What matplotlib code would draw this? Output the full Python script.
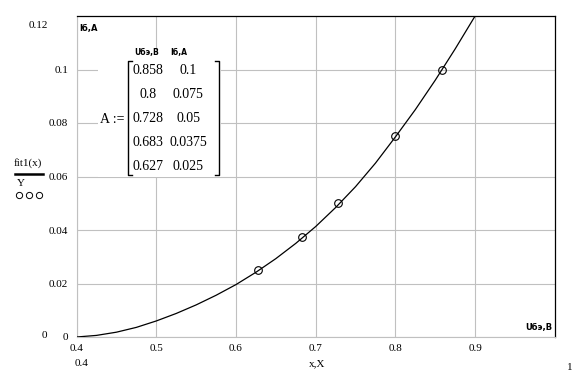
import matplotlib
matplotlib.use("Agg")
import matplotlib.pyplot as plt
from matplotlib.lines import Line2D
from matplotlib.patches import Rectangle

# measured points (matrix A): Uбэ, В and Iб, А
u_be = [0.858, 0.8, 0.728, 0.683, 0.627]
i_b = [0.1, 0.075, 0.05, 0.0375, 0.025]

# fit1(x)
fit_x = [0.400, 0.425, 0.450, 0.475, 0.500, 0.525, 0.550, 0.575, 0.600, 0.625, 0.650,
         0.675, 0.700, 0.725, 0.750, 0.775, 0.800, 0.825, 0.850, 0.875, 0.900]
fit_y = [0.0000, 0.0006, 0.0018, 0.0036, 0.0060, 0.0088, 0.0120, 0.0156, 0.0196, 0.0242, 0.0293,
         0.0350, 0.0413, 0.0484, 0.0562, 0.0650, 0.0748, 0.0850, 0.0960, 0.1077, 0.1200]

x_ticks = [0.4, 0.5, 0.6, 0.7, 0.8, 0.9]
y_ticks = [0, 0.02, 0.04, 0.06, 0.08, 0.1]
y_tick_labels = ["0", "0.02", "0.04", "0.06", "0.08", "0.1"]

W, H = 577, 370
GRID = "#c0c0c0"
SERIF = "Liberation Serif"
FS = 8

fig = plt.figure(figsize=(W / 100, H / 100), dpi=100)
ax = fig.add_axes([76.6 / W, 1 - 337 / H, (554.8 - 76.6) / W, (337 - 16) / H])


def px(x, y):
    return x / W, 1 - y / H


ax.plot(fit_x, fit_y, color="black", lw=0.9, zorder=3)
ax.plot(u_be, i_b, ls="none", marker="o", ms=5.5, mfc="none", mec="black", mew=0.8, zorder=4)

ax.set_xlim(0.4, 1.0)
ax.set_ylim(0, 0.12)
ax.set_xticks(x_ticks, [str(v) for v in x_ticks])
ax.set_yticks(y_ticks, y_tick_labels)
ax.tick_params(length=0, labelsize=FS)
ax.tick_params(axis="x", pad=5)
ax.tick_params(axis="y", pad=6)
for lab in ax.get_xticklabels() + ax.get_yticklabels():
    lab.set_family(SERIF)
ax.grid(True, color=GRID, lw=0.8)
ax.set_axisbelow(True)
for side in ["left", "bottom"]:
    ax.spines[side].set_color(GRID)
    ax.spines[side].set_linewidth(0.8)
for side in ["top", "right"]:
    ax.spines[side].set_color("black")
    ax.spines[side].set_linewidth(0.9)

# axis names inside the plot
ax.text(0.006, 0.975, "Iб,А", transform=ax.transAxes, fontsize=6, fontweight="bold",
        family="DejaVu Sans", ha="left", va="top")
ax.text(0.995, 0.015, "Uбэ,В", transform=ax.transAxes, fontsize=6, fontweight="bold",
        family="DejaVu Sans", ha="right", va="bottom")

# range limits and x label
fig.text(*px(38, 25), "0.12", fontsize=FS, family=SERIF, ha="center", va="center")
fig.text(*px(44, 335), "0", fontsize=FS, family=SERIF, ha="center", va="center")
fig.text(*px(82, 364), "0.4", fontsize=FS, family=SERIF, ha="center", va="center")
fig.text(*px(317, 364), "x,X", fontsize=FS, family=SERIF, ha="center", va="center")
fig.text(*px(570, 367), "1", fontsize=FS, family=SERIF, ha="center", va="center")

# legend on the left
fig.text(*px(28, 163), "fit1(x)", fontsize=8, family=SERIF, ha="center", va="center")
fig.add_artist(Line2D([15 / W, 43 / W], [1 - 174 / H, 1 - 174 / H], color="black", lw=1.8))
fig.text(*px(21, 184), "Y", fontsize=8, family=SERIF, ha="center", va="center")
for cx in [19, 29, 39]:
    fig.add_artist(Line2D([cx / W], [1 - 195 / H], ls="none", marker="o", ms=4.5,
                          mfc="none", mec="black", mew=0.7))

# white backing behind the matrix hides the grid there
fig.add_artist(Rectangle(px(98, 177), 123 / W, 127 / H, transform=fig.transFigure,
                         fc="white", ec="none", zorder=2.5))

# matrix A
fig.text(*px(112, 119), "A :=", fontsize=10, family=SERIF, ha="center", va="center", zorder=4)
fig.text(*px(147, 53), "Uбэ,В", fontsize=5.5, fontweight="bold", family="DejaVu Sans",
         ha="center", va="center", zorder=4)
fig.text(*px(179, 53), "Iб,А", fontsize=5.5, fontweight="bold", family="DejaVu Sans",
         ha="center", va="center", zorder=4)
rows_y = [70, 94, 118, 142, 166]
for ry, u, i in zip(rows_y, u_be, i_b):
    fig.text(*px(148, ry), str(u), fontsize=10, family=SERIF, ha="center", va="center", zorder=4)
    fig.text(*px(188, ry), str(i), fontsize=10, family=SERIF, ha="center", va="center", zorder=4)
top, bot = 1 - 61 / H, 1 - 175 / H
for xb, tip in [(128, 4), (219, -4)]:
    xs = [(xb + tip) / W, xb / W, xb / W, (xb + tip) / W]
    ys = [top, top, bot, bot]
    fig.add_artist(Line2D(xs, ys, color="black", lw=1.0, zorder=4))

fig.savefig("out.png", dpi=100)
